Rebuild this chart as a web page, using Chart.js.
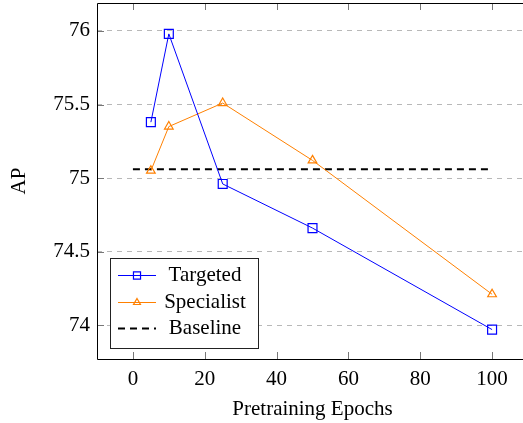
<!DOCTYPE html>
<html>
<head>
<meta charset="utf-8">
<script src="https://cdn.jsdelivr.net/npm/chart.js@4/dist/chart.umd.min.js"></script>
<style>
  html, body { margin: 0; padding: 0; background: #fff; overflow: hidden; }
  #wrap { width: 540px; height: 423px; }
</style>
</head>
<body>
<div id="wrap"><canvas id="chart" width="540" height="423"></canvas></div>
<script>
// data
const epochs = [5, 10, 25, 50, 100];
const targeted = [75.38, 75.98, 74.96, 74.66, 73.97];
const specialist = [75.05, 75.35, 75.51, 75.12, 74.21];
const baselineX = [0, 100];
const baselineY = [75.06, 75.06];
const xTicks = [0, 20, 40, 60, 80, 100];
const yTicks = [74, 74.5, 75, 75.5, 76];

const serif = "'Liberation Serif', 'DejaVu Serif', serif";
const blue = "#0000ff";
const orange = "#ff8000";

function pts(xs, ys){
    return xs.map((x,i)=>({x:x, y:ys[i]}));
}

// frame, inward tick marks and the boxed legend (pgfplots look)
const framePlugin = {
    id: "frame",
    afterDatasetsDraw(chart){
        const ctx = chart.ctx;
        const a = chart.chartArea;
        const xs = chart.scales.x, ys = chart.scales.y;
        ctx.save();
        ctx.strokeStyle = "#777";
        ctx.lineWidth = 1;
        xTicks.forEach(t=>{
            const px = Math.round(xs.getPixelForValue(t)) + 0.5;
            ctx.beginPath();
            ctx.moveTo(px, a.bottom); ctx.lineTo(px, a.bottom - 7);
            ctx.moveTo(px, a.top); ctx.lineTo(px, a.top + 7);
            ctx.stroke();
        });
        yTicks.forEach(t=>{
            const py = Math.round(ys.getPixelForValue(t)) + 0.5;
            ctx.beginPath();
            ctx.moveTo(a.left, py); ctx.lineTo(a.left + 7, py);
            ctx.stroke();
        });
        // left, top and bottom axis lines (right one falls outside the picture)
        ctx.strokeStyle = "#000";
        ctx.beginPath();
        ctx.moveTo(a.right, a.top + 0.5);
        ctx.lineTo(a.left + 0.5, a.top + 0.5);
        ctx.lineTo(a.left + 0.5, a.bottom + 0.5);
        ctx.lineTo(a.right, a.bottom + 0.5);
        ctx.stroke();

        // legend box
        const lx = 110.5, ly = 258.5, lw = 148, lh = 90;
        ctx.fillStyle = "#fff";
        ctx.fillRect(lx, ly, lw, lh);
        ctx.strokeStyle = "#222";
        ctx.strokeRect(lx, ly, lw, lh);
        const rows = [275, 302, 328];
        chart.data.datasets.forEach((ds,i)=>{
            const y = rows[i] + 0.5;
            ctx.strokeStyle = ds.borderColor;
            ctx.lineWidth = ds.borderWidth;
            ctx.setLineDash(ds.borderDash || []);
            ctx.beginPath();
            ctx.moveTo(118, y); ctx.lineTo(156, y);
            ctx.stroke();
            ctx.setLineDash([]);
            if (ds.pointRadius > 0) {
                ctx.fillStyle = "rgba(0,0,0,0)";
                ctx.lineWidth = 1.2;
                Chart.helpers.drawPoint(ctx, {
                    pointStyle: ds.pointStyle,
                    radius: ds.pointStyle === "rect" ? 5 : 4,
                    borderWidth: 1.2
                }, 137, y);
            }
            ctx.fillStyle = "#000";
            ctx.font = "21px " + serif;
            ctx.textAlign = "center";
            ctx.textBaseline = "middle";
            ctx.fillText(ds.label, 205, rows[i]);
        });
        ctx.restore();
    }
};

new Chart(document.getElementById("chart"), {
    type: "line",
    data: {
        datasets: [
            {
                label: "Targeted",
                data: pts(epochs, targeted),
                borderColor: blue,
                borderWidth: 1,
                pointStyle: "rect",
                pointRadius: 6.3,
                pointBorderColor: blue,
                pointBackgroundColor: "rgba(0,0,0,0)",
                pointBorderWidth: 1.2
            },
            {
                label: "Specialist",
                data: pts(epochs, specialist),
                borderColor: orange,
                borderWidth: 1,
                pointStyle: "triangle",
                pointRadius: 5,
                pointBorderColor: orange,
                pointBackgroundColor: "rgba(0,0,0,0)",
                pointBorderWidth: 1.2
            },
            {
                label: "Baseline",
                data: pts(baselineX, baselineY),
                borderColor: "#000",
                borderWidth: 2,
                borderDash: [7, 5],
                pointRadius: 0
            }
        ]
    },
    options: {
        animation: false,
        responsive: false,
        layout: { autoPadding: false, padding: { left: 0, top: 3, right: 12, bottom: 0 } },
        plugins: { legend: { display: false }, tooltip: { enabled: false } },
        scales: {
            x: {
                type: "linear",
                min: -10,
                max: 110,
                afterFit: s => { s.height = 64; s.paddingLeft = 0; s.paddingRight = 0; },
                afterBuildTicks: s => { s.ticks = xTicks.map(v=>({value:v})); },
                grid: { display: false, drawTicks: false },
                border: { display: false },
                ticks: {
                    color: "#000", padding: 8, maxRotation: 0,
                    font: { family: serif, size: 21 },
                    callback: v => String(v)
                },
                title: {
                    display: true,
                    text: "Pretraining Epochs",
                    color: "#000",
                    padding: { top: 0, bottom: 1 },
                    font: { family: serif, size: 21 }
                }
            },
            y: {
                min: 73.77,
                max: 76.19,
                afterFit: s => { s.width = 97; s.paddingTop = 0; s.paddingBottom = 0; },
                afterBuildTicks: s => { s.ticks = yTicks.map(v=>({value:v})); },
                grid: {
                    color: "#b8b8b8",
                    lineWidth: 1,
                    drawTicks: false
                },
                border: { display: false, dash: [5, 5] },
                ticks: {
                    color: "#000", padding: 7,
                    font: { family: serif, size: 21 },
                    callback: v => String(v)
                },
                title: {
                    display: true,
                    text: "AP",
                    color: "#000",
                    padding: { top: 7, bottom: 0 },
                    font: { family: serif, size: 21 }
                }
            }
        }
    },
    plugins: [framePlugin]
});
</script>
</body>
</html>
